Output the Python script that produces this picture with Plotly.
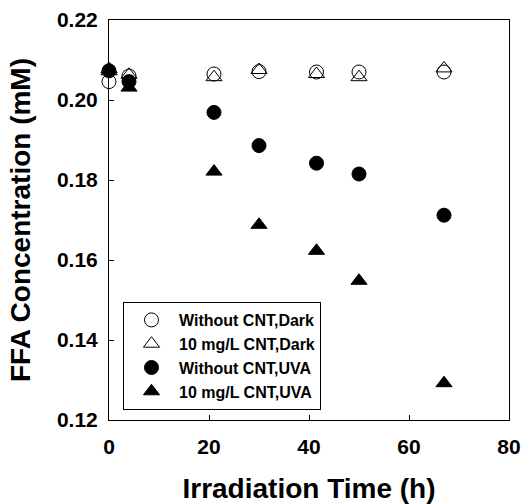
import plotly.graph_objects as go

time_h = [0, 4, 21, 30, 41.5, 50, 67]
names = ["Without CNT,Dark", "10 mg/L CNT,Dark", "Without CNT,UVA", "10 mg/L CNT,UVA"]
dark_no_cnt = [0.2046, 0.2060, 0.2065, 0.2071, 0.2070, 0.2070, 0.2070]
dark_cnt = [0.2072, 0.2063, 0.2057, 0.2075, 0.2065, 0.2057, 0.2079]
uva_no_cnt = [0.2073, 0.2046, 0.1969, 0.1886, 0.1842, 0.1815, 0.1712]
uva_cnt = [0.2077, 0.2031, 0.1821, 0.1688, 0.1623, 0.1548, 0.1292]

series = [dark_no_cnt, dark_cnt, uva_no_cnt, uva_cnt]
symbols = ["circle-open", "triangle-up-open", "circle", "triangle-up"]
sizes = [14, 14, 14, 14]

FONT = "Liberation Sans, Arial, sans-serif"

fig = go.Figure()
for name, ys, sym, sz in zip(names, series, symbols, sizes):
    fig.add_trace(go.Scatter(
        x=time_h, y=ys, mode="markers", name=name, cliponaxis=False,
        marker=dict(symbol=sym, size=sz, color="black", line=dict(color="black", width=1)),
    ))

fig.update_layout(
    width=529, height=504,
    margin=dict(l=109, r=20, t=20, b=84),
    paper_bgcolor="white", plot_bgcolor="white",
    font=dict(family=FONT, color="black", weight="bold"),
    showlegend=True,
    legend=dict(
        x=0.035, y=0.295, xanchor="left", yanchor="top",
        bordercolor="black", borderwidth=1, bgcolor="white",
        font=dict(size=16, family=FONT, weight="bold"),
        itemwidth=45,
        tracegroupgap=0,
    ),
)
fig.update_xaxes(
    range=[0, 80], tickvals=[0, 20, 40, 60, 80],
    automargin=False,
    showgrid=False, zeroline=False,
    showline=True, linecolor="black", linewidth=1, mirror=True,
    ticks="inside", ticklen=5, tickwidth=1, tickcolor="black",
    tickfont=dict(size=21, family=FONT, weight="bold"),
    ticklabelstandoff=8,
    title=dict(text="Irradiation Time (h)", font=dict(size=28, family=FONT, weight="bold"), standoff=22),
)
fig.update_yaxes(
    range=[0.12, 0.22], tickvals=[0.12, 0.14, 0.16, 0.18, 0.20, 0.22],
    tickformat=".2f",
    automargin=False,
    showgrid=False, zeroline=False,
    showline=True, linecolor="black", linewidth=1, mirror=True,
    ticks="inside", ticklen=5, tickwidth=1, tickcolor="black",
    tickfont=dict(size=21, family=FONT, weight="bold"),
    ticklabelstandoff=6,
    title=dict(text="FFA Concentration (mM)", font=dict(size=28, family=FONT, weight="bold"), standoff=18),
)

fig.write_html("out.html")
